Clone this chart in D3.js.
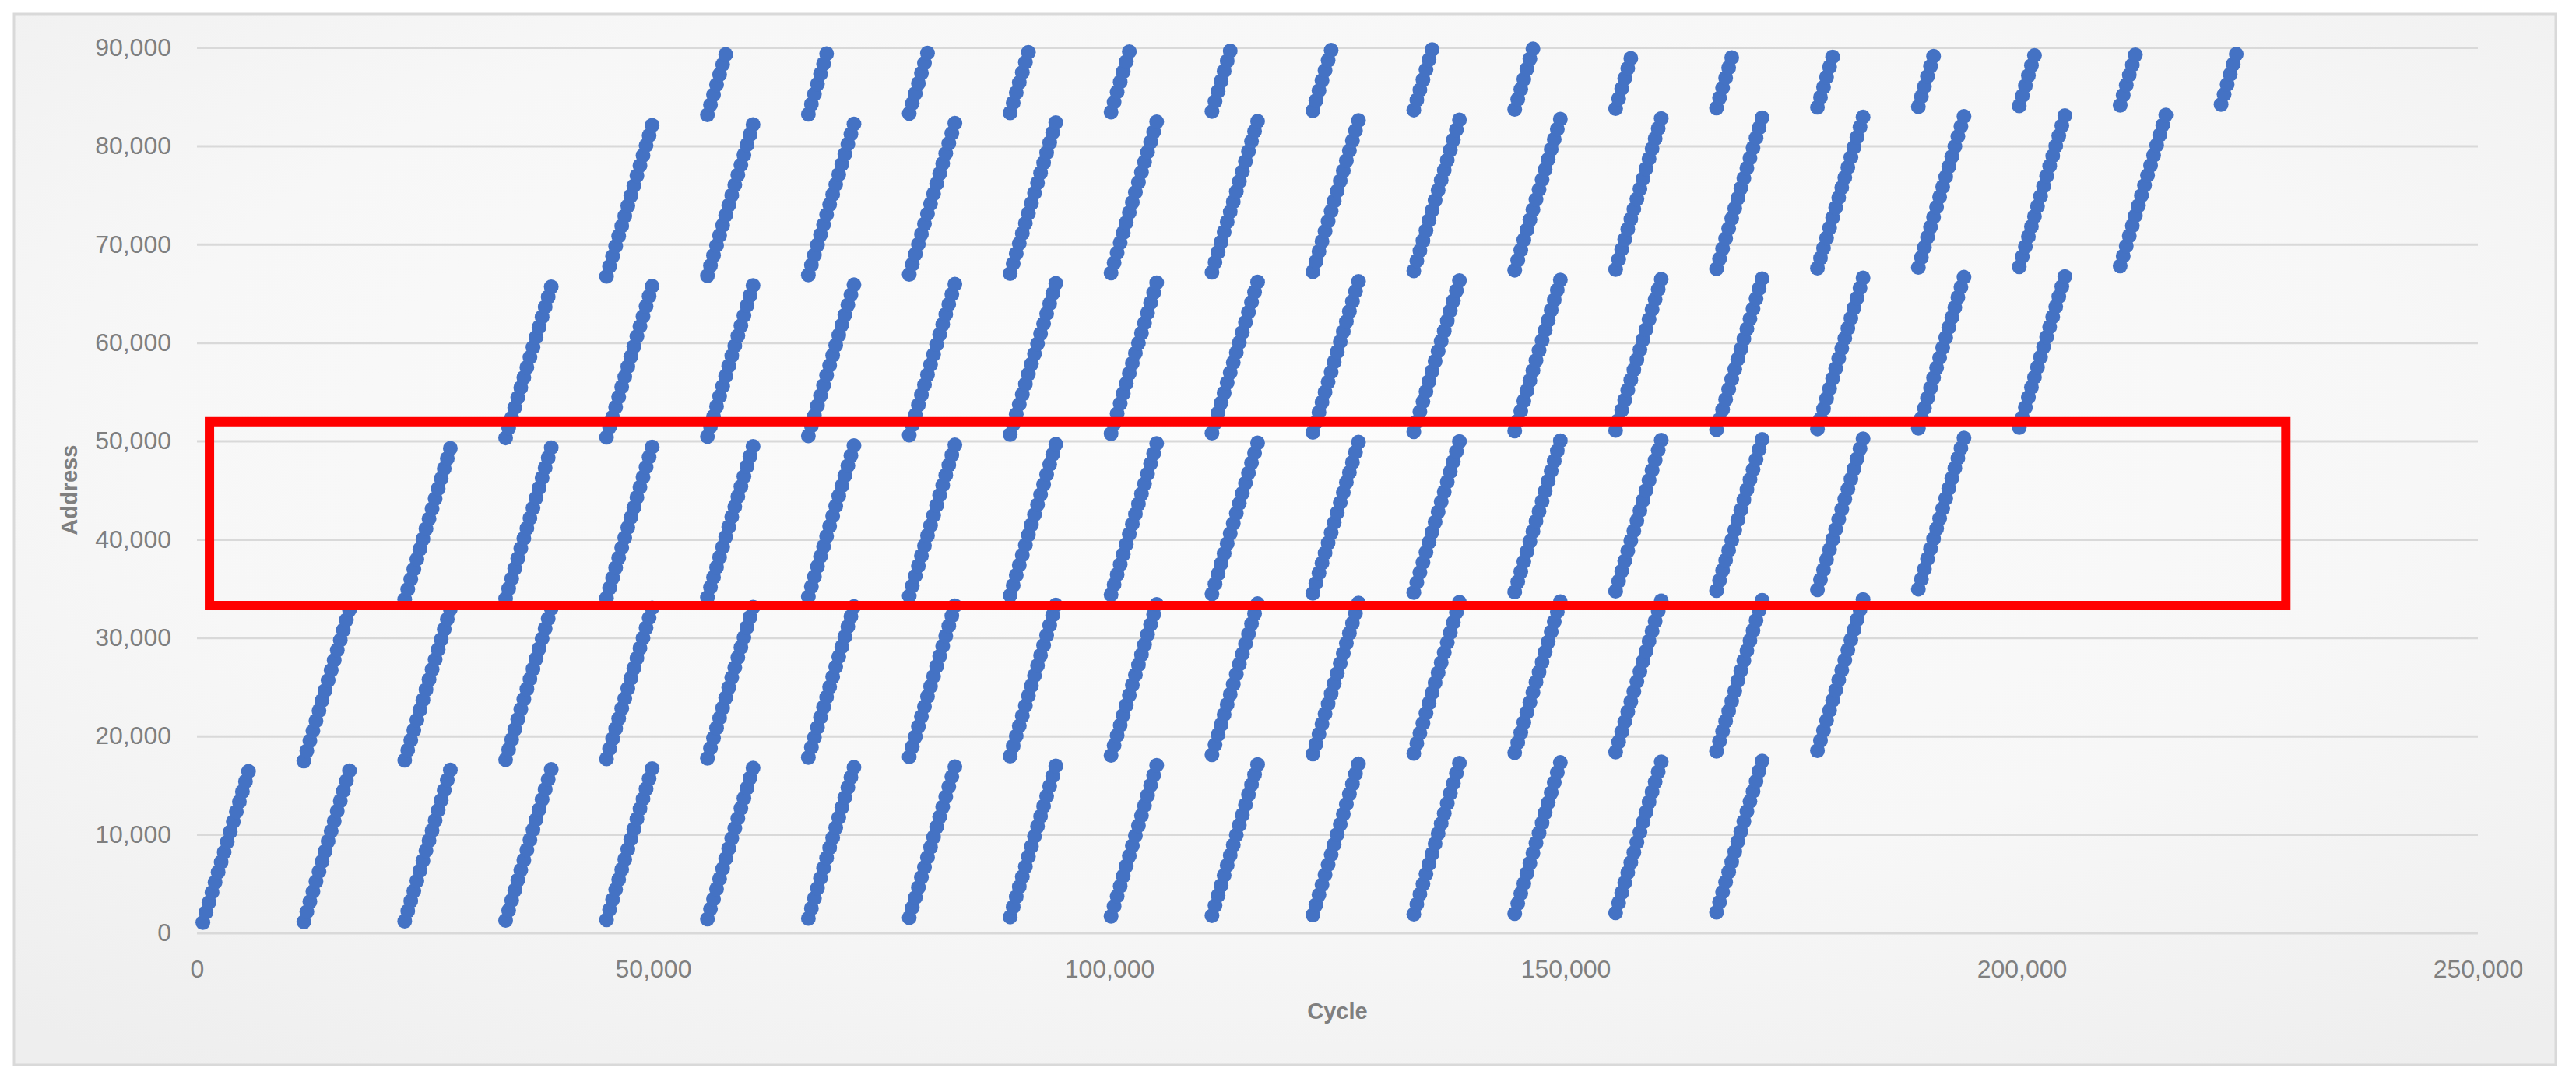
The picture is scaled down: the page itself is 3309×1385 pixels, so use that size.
<!DOCTYPE html>
<html>
<head>
<meta charset="utf-8">
<script src="https://cdn.jsdelivr.net/npm/d3@7"></script>
<style>
  html, body { margin: 0; padding: 0; background: #ffffff; }
  svg { display: block; }
</style>
</head>
<body>
<div id="chart"></div>
<script>
// ---------------- data ----------------
// cycle of the first dot of each access column (21 columns)
const columnStartCycles = [650, 11710, 22770, 33830, 44890, 55950, 67010, 78070, 89130, 100190,
  111250, 122310, 133370, 144430, 155490, 166550, 177610, 188670, 199730, 210790, 221850];
// address drift of each column
const columnAddressShift = [0, 70, 140, 210, 280, 350, 420, 490, 560, 630,
  700, 770, 840, 910, 980, 1050, 1120, 1190, 1260, 1330, 1400];
// cycle offsets of the successive dots inside one segment
const dotCycleOffsets = [0, 333, 667, 1000, 1333, 1667, 2000, 2333, 2667, 3000, 3333, 3667, 4000, 4333, 4667, 5000];
// address offsets of the successive dots inside one segment
const dotAddressOffsets = [0, 1024, 2048, 3072, 4096, 5120, 6144, 7168, 8192, 9216, 10240, 11264, 12288, 13312, 14336, 15360];
// first address of each address band
const bandBaseAddresses = [1050, 17400, 33750, 50100, 66450, 82800];
// first and last column in which each band appears
const bandFirstColumn = [0, 1, 2, 3, 4, 5];
const bandLastColumn = [15, 16, 17, 18, 19, 20];
// number of dots of the top band (band 6) for columns 5..20
const topBandDotCounts = [7, 7, 7, 7, 7, 7, 7, 7, 7, 6, 6, 6, 6, 6, 6, 6];

const xTicks = [0, 50000, 100000, 150000, 200000, 250000];
const yTicks = [0, 10000, 20000, 30000, 40000, 50000, 60000, 70000, 80000, 90000];
const xTitle = "Cycle";
const yTitle = "Address";
// highlighted region (cycle/address corners)
const highlightBox = { x0: 1370, x1: 228950, y0: 33270, y1: 51960 };

// ---------------- build points ----------------
const points = [];
bandBaseAddresses.forEach((base, b) => {
  for (let k = bandFirstColumn[b]; k <= bandLastColumn[b]; k++) {
    const n = (b === 5) ? topBandDotCounts[k - bandFirstColumn[b]] : dotCycleOffsets.length;
    for (let j = 0; j < n; j++) {
      points.push({
        cycle: columnStartCycles[k] + dotCycleOffsets[j],
        address: base + columnAddressShift[k] + dotAddressOffsets[j]
      });
    }
  }
});

// ---------------- drawing ----------------
const W = 3309, H = 1385;
const svg = d3.select("#chart").append("svg").attr("width", W).attr("height", H);

const defs = svg.append("defs");
const grad = defs.append("radialGradient").attr("id", "bg")
  .attr("cx", "50%").attr("cy", "40%").attr("r", "75%");
grad.append("stop").attr("offset", "0%").attr("stop-color", "#fcfcfc");
grad.append("stop").attr("offset", "60%").attr("stop-color", "#f7f7f7");
grad.append("stop").attr("offset", "100%").attr("stop-color", "#eeeeee");

svg.append("rect").attr("width", W).attr("height", H).attr("fill", "#ffffff");
svg.append("rect").attr("x", 18).attr("y", 18).attr("width", 3265).attr("height", 1350)
  .attr("fill", "url(#bg)").attr("stroke", "#d9d9d9").attr("stroke-width", 3);

const x = d3.scaleLinear().domain([0, 250000]).range([253, 3183]);
const y = d3.scaleLinear().domain([0, 90000]).range([1198.5, 61]);
const fmt = d3.format(",");
const font = "'Liberation Sans', Arial, sans-serif";

// gridlines + y labels via axis
const yAxis = d3.axisLeft(y).tickValues(yTicks).tickFormat(fmt)
  .tickSize(-(x.range()[1] - x.range()[0])).tickPadding(33);
const gy = svg.append("g").attr("transform", `translate(${x.range()[0]},0)`).call(yAxis);
gy.select(".domain").remove();
gy.selectAll(".tick line").attr("stroke", "#d9d9d9").attr("stroke-width", 3);
gy.selectAll(".tick text").attr("fill", "#7f7f7f").style("font-family", font).style("font-size", "32px");

const xAxis = d3.axisBottom(x).tickValues(xTicks).tickFormat(fmt).tickSize(0).tickPadding(0);
const gx = svg.append("g").attr("transform", `translate(0,1233)`).call(xAxis);
gx.select(".domain").remove();
gx.selectAll(".tick text").attr("fill", "#7f7f7f").style("font-family", font).style("font-size", "32px")
  .attr("dy", "0.71em");

// axis titles
svg.append("text").attr("x", (x.range()[0] + x.range()[1]) / 2).attr("y", 1309)
  .attr("text-anchor", "middle").attr("fill", "#7f7f7f")
  .style("font-family", font).style("font-size", "29px").style("font-weight", "bold").text(xTitle);
svg.append("text").attr("transform", `translate(99,${(y.range()[0] + y.range()[1]) / 2}) rotate(-90)`)
  .attr("text-anchor", "middle").attr("fill", "#7f7f7f")
  .style("font-family", font).style("font-size", "29px").style("font-weight", "bold").text(yTitle);

// dots
svg.append("g").selectAll("circle").data(points).join("circle")
  .attr("cx", d => x(d.cycle)).attr("cy", d => y(d.address)).attr("r", 9.5)
  .attr("fill", "#4472c4");

// highlight box
svg.append("rect")
  .attr("x", x(highlightBox.x0)).attr("y", y(highlightBox.y1))
  .attr("width", x(highlightBox.x1) - x(highlightBox.x0))
  .attr("height", y(highlightBox.y0) - y(highlightBox.y1))
  .attr("fill", "none").attr("stroke", "#ff0000").attr("stroke-width", 12);
</script>
</body>
</html>
